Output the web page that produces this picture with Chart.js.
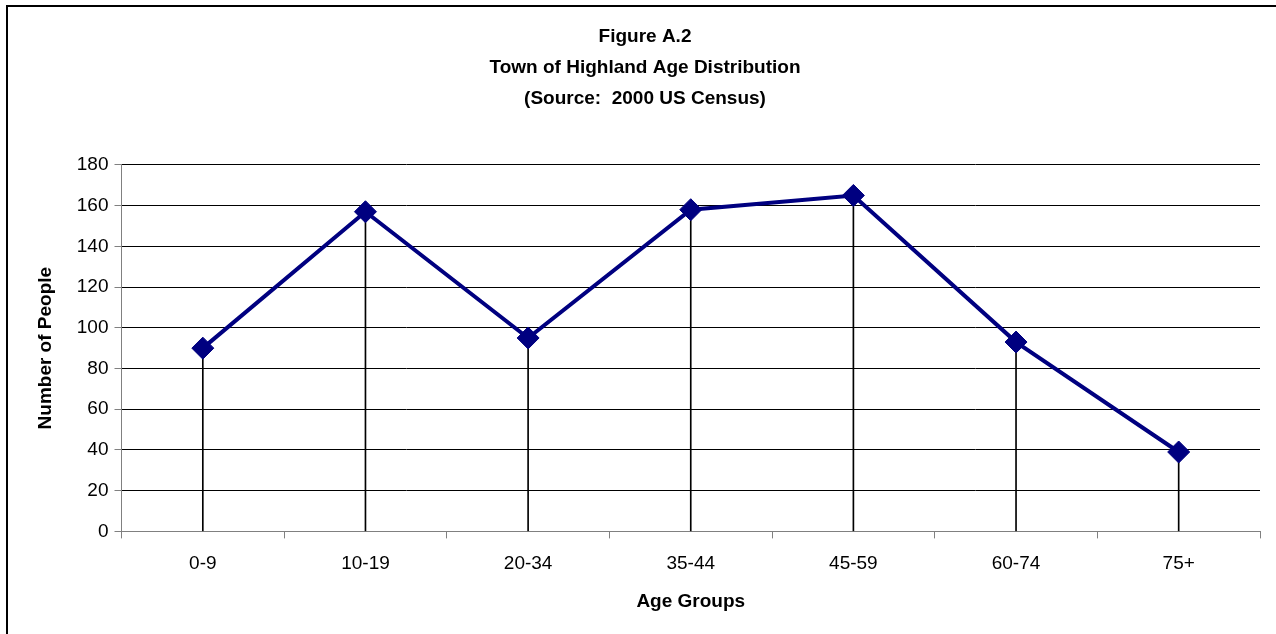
<!DOCTYPE html>
<html>
<head>
<meta charset="utf-8">
<script src="https://cdn.jsdelivr.net/npm/chart.js@4.4.0/dist/chart.umd.min.js"></script>
<style>
  body { margin: 0; background: #fff; }
  #wrap {
    position: absolute; left: 6px; top: 5px;
    width: 1270px; height: 629px;
    border-left: 2px solid #000; border-top: 2px solid #000;
  }
</style>
</head>
<body>
<div id="wrap"><canvas id="ageGraph"></canvas></div>
<script>
const ageGroups = ["0-9", "10-19", "20-34", "35-44", "45-59", "60-74", "75+"];
const people = [90, 157, 95, 158, 165, 93, 39];
const yTicks = [0, 20, 40, 60, 80, 100, 120, 140, 160, 180];
const titleLines = ["Figure A.2", "Town of Highland Age Distribution", "(Source:  2000 US Census)"];

const font = "'Liberation Sans', Arial, sans-serif";
Chart.defaults.font.family = font;
Chart.defaults.color = "#000";

const ageChart = new Chart(document.getElementById("ageGraph").getContext("2d"), {
    type: "line",
    data: {
        labels: ageGroups,
        datasets: [{
            type: "line",
            label: "Number of People",
            data: people,
            borderColor: "#000080",
            backgroundColor: "#000080",
            borderWidth: 4,
            pointStyle: "rectRot",
            pointRadius: 11,
            pointHoverRadius: 11,
            pointBorderWidth: 1,
            tension: 0,
            order: 1
        }, {
            // drop lines from each point to the axis
            type: "bar",
            label: "drop",
            data: people,
            backgroundColor: "#000",
            barThickness: 1,
            order: 2
        }]
    },
    options: {
        responsive: true,
        maintainAspectRatio: false,
        animation: false,
        layout: { padding: { top: 14, right: 18, bottom: 19, left: 22 } },
        plugins: {
            legend: { display: false },
            tooltip: { enabled: false },
            title: {
                display: true,
                text: titleLines,
                font: { size: 19, weight: "bold", lineHeight: 1.63 },
                padding: { top: 0, bottom: 51 }
            }
        },
        scales: {
            x: {
                offset: true,
                grid: { offset: true, drawOnChartArea: false, color: "#808080", tickLength: 7 },
                border: { color: "#808080", width: 1 },
                ticks: { font: { size: 19 }, padding: 14 },
                title: { display: true, text: "Age Groups", font: { size: 19, weight: "bold" }, padding: { top: 1, bottom: 4 } }
            },
            y: {
                min: 0,
                max: 180,
                afterBuildTicks: (axis) => { axis.ticks = yTicks.map(v => ({ value: v })); },
                grid: { color: "#000", tickColor: "#808080", tickLength: 7 },
                border: { color: "#808080", width: 1 },
                ticks: { font: { size: 19 }, padding: 6 },
                title: { display: true, text: "Number of People", font: { size: 19, weight: "bold" }, padding: { top: 4, bottom: 14 } }
            }
        }
    }
});
</script>
</body>
</html>
